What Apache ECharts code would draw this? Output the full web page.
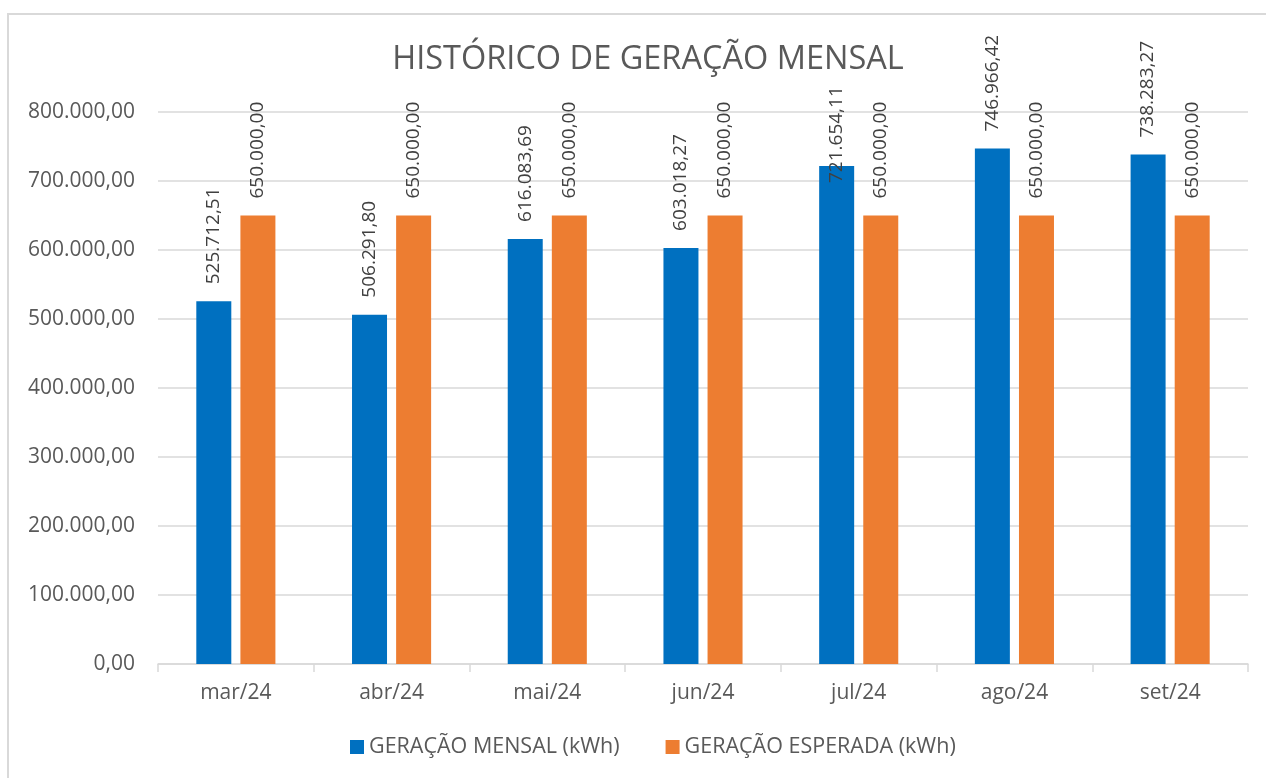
<!DOCTYPE html>
<html><head><meta charset="utf-8">
<script src="https://cdn.jsdelivr.net/npm/echarts@6/dist/echarts.min.js"></script>
<style>html,body{margin:0;padding:0;background:#fff}#c{width:1266px;height:778px}</style>
</head><body><div id="c"></div>
<script>
const categories = ['mar/24','abr/24','mai/24','jun/24','jul/24','ago/24','set/24'];
const geracaoMensal = [525712.51, 506291.80, 616083.69, 603018.27, 721654.11, 746966.42, 738283.27];
const geracaoEsperada = [650000, 650000, 650000, 650000, 650000, 650000, 650000];
const yTicks = {min: 0, max: 800000, interval: 100000};

function fmt(v){
  const parts = Number(v).toFixed(2).split('.');
  parts[0] = parts[0].replace(/\B(?=(\d{3})+(?!\d))/g, '.');
  return parts[0] + ',' + parts[1];
}
const FONT = '"Open Sans", "Noto Sans", sans-serif';
const labelBase = {show: true, position: 'top', rotate: 90, align: 'left', verticalAlign: 'middle',
  distance: 17, color: '#404040', fontSize: 19, fontFamily: FONT, formatter: p => fmt(p.value)};

const chart = echarts.init(document.getElementById('c'));
chart.setOption({
  animation: false,
  title: {text: 'HISTÓRICO DE GERAÇÃO MENSAL', left: 643, textAlign: 'center', top: 38,
    textStyle: {color: '#595959', fontSize: 32.5, fontWeight: 'normal', fontFamily: FONT}},
  graphic: [{type: 'rect', shape: {x: 8, y: 14, width: 1300, height: 800},
    style: {fill: 'none', stroke: '#d9d9d9', lineWidth: 2}, silent: true}],
  legend: {bottom: 15, left: 345, itemWidth: 14, itemHeight: 14, itemGap: 46, icon: 'rect',
    textStyle: {color: '#595959', fontSize: 21.5, fontFamily: FONT}},
  grid: {left: 158, right: 18, top: 112, bottom: 114, containLabel: false},
  xAxis: {type: 'category', data: categories,
    axisLine: {lineStyle: {color: '#d9d9d9', width: 1.5}},
    axisTick: {show: true, alignWithLabel: false, length: 8, lineStyle: {color: '#d9d9d9', width: 1.5}},
    axisLabel: {color: '#595959', fontSize: 21, fontFamily: FONT, margin: 19}},
  yAxis: {type: 'value', min: yTicks.min, max: yTicks.max, interval: yTicks.interval,
    axisLine: {show: false}, axisTick: {show: false},
    splitLine: {lineStyle: {color: '#d9d9d9', width: 1.5}},
    axisLabel: {color: '#595959', fontSize: 21, fontFamily: FONT, margin: 23, formatter: v => fmt(v)}},
  series: [
    {name: 'GERAÇÃO MENSAL (kWh)', type: 'bar', barWidth: 35, barGap: '26%',
      itemStyle: {color: '#0070C0'},
      label: labelBase,
      data: geracaoMensal.map((v, i) => categories[i] === 'jul/24' ? {value: v, label: {distance: -17}} : v)},
    {name: 'GERAÇÃO ESPERADA (kWh)', type: 'bar', barWidth: 35, barGap: '26%',
      itemStyle: {color: '#ED7D31'},
      label: labelBase,
      data: geracaoEsperada}
  ]
});
</script></body></html>
